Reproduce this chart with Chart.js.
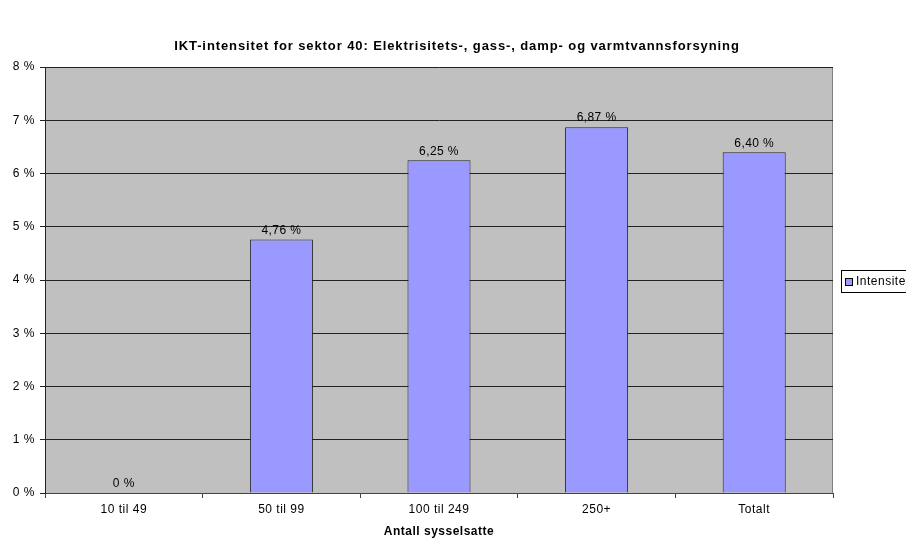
<!DOCTYPE html>
<html>
<head>
<meta charset="utf-8">
<script src="https://cdn.jsdelivr.net/npm/chart.js@4/dist/chart.umd.min.js"></script>
<style>
html,body{margin:0;padding:0;background:#fff;}
#wrap{width:906px;height:539px;position:relative;}
</style>
</head>
<body>
<div id="wrap"><canvas id="c" width="906" height="539"></canvas></div>
<script>
const categories = ["10 til 49", "50 til 99", "100 til 249", "250+", "Totalt"];
const values = [0, 4.76, 6.25, 6.87, 6.40];
const valueLabels = ["0 %", "4,76 %", "6,25 %", "6,87 %", "6,40 %"];
const seriesName = "Intensitet";
const chartTitle = "IKT-intensitet for sektor 40: Elektrisitets-, gass-, damp- og varmtvannsforsyning";
const xTitle = "Antall sysselsatte";
const yMin = 0, yMax = 8, yStep = 1;

const FONT = "'Liberation Sans', Arial, sans-serif";

const spacing = {
  id: 'spacing',
  beforeInit(chart) { chart.ctx.letterSpacing = '0.5px'; },
  beforeLayout(chart) { chart.ctx.letterSpacing = '0.5px'; },
  beforeDraw(chart) { chart.ctx.letterSpacing = '0.5px'; }
};

const plotBg = {
  id: 'plotBg',
  beforeDraw(chart) {
    const {ctx, chartArea: a} = chart;
    ctx.save();
    ctx.fillStyle = '#C0C0C0';
    ctx.fillRect(a.left, a.top, a.right - a.left, a.bottom - a.top);
    ctx.strokeStyle = '#808080';
    ctx.lineWidth = 1;
    ctx.beginPath();
    ctx.moveTo(a.left, a.top + 0.5);
    ctx.lineTo(a.right - 0.5, a.top + 0.5);
    ctx.lineTo(a.right - 0.5, a.bottom);
    ctx.stroke();
    ctx.restore();
  }
};

const extras = {
  id: 'extras',
  afterDraw(chart) {
    const {ctx} = chart;
    const meta = chart.getDatasetMeta(0);
    ctx.save();
    ctx.letterSpacing = '0.4px';
    ctx.fillStyle = '#000';
    ctx.font = "12px " + FONT;
    ctx.textAlign = 'center';
    ctx.textBaseline = 'bottom';
    meta.data.forEach((bar, i) => {
      ctx.fillText(valueLabels[i], bar.x, bar.y - 3);
    });
    // title
    ctx.letterSpacing = '0.9px';
    ctx.font = "bold 13px " + FONT;
    ctx.textBaseline = 'middle';
    ctx.fillText(chartTitle, 457, 46);
    // legend
    ctx.letterSpacing = '0.5px';
    ctx.fillStyle = '#fff';
    ctx.fillRect(841.5, 270.5, 80, 22);
    ctx.strokeStyle = '#000';
    ctx.lineWidth = 1;
    ctx.strokeRect(841.5, 270.5, 80, 22);
    ctx.fillStyle = '#9999FF';
    ctx.fillRect(845.5, 278.5, 7, 7);
    ctx.strokeStyle = '#000';
    ctx.strokeRect(845.5, 278.5, 7, 7);
    ctx.fillStyle = '#000';
    ctx.font = "12px " + FONT;
    ctx.textAlign = 'left';
    ctx.fillText(seriesName, 856, 282);
    ctx.restore();
  }
};

new Chart(document.getElementById('c'), {
  type: 'bar',
  data: {
    labels: categories,
    datasets: [{
      label: seriesName,
      data: values,
      backgroundColor: '#9999FF',
      borderColor: '#222222',
      borderWidth: 1,
      borderSkipped: 'bottom',
      categoryPercentage: 1,
      barPercentage: 0.4
    }]
  },
  options: {
    responsive: false,
    animation: false,
    devicePixelRatio: 1,
    layout: {padding: {top: 67, right: 73, left: 0, bottom: 0}},
    plugins: {legend: {display: false}, title: {display: false}, tooltip: {enabled: false}},
    scales: {
      x: {
        offset: true,
        grid: {display: true, drawOnChartArea: false, drawTicks: true, tickLength: 5, color: '#444', offset: true},
        border: {color: '#444', width: 1},
        ticks: {color: '#000', font: {family: FONT, size: 12}, padding: 4, maxRotation: 0},
        title: {display: true, text: xTitle, color: '#000', font: {family: FONT, size: 12, weight: 'bold'}, padding: {top: 4, bottom: 0}},
        afterFit(s) { s.height = 46; }
      },
      y: {
        min: yMin, max: yMax,
        ticks: {stepSize: yStep, color: '#000', font: {family: FONT, size: 12}, padding: 5,
                callback: v => v + ' %'},
        grid: {color: '#222', lineWidth: 1, drawTicks: true, tickLength: 5},
        border: {color: '#222', width: 1},
        afterFit(s) { s.width = 45; }
      }
    }
  },
  plugins: [spacing, plotBg, extras]
});
</script>
</body>
</html>
